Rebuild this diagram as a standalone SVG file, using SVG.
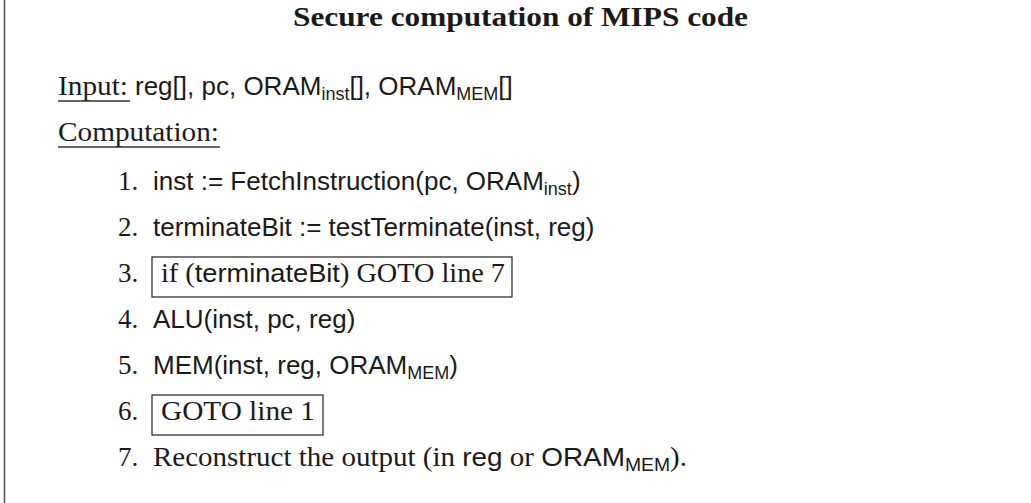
<svg xmlns="http://www.w3.org/2000/svg" width="1031" height="503" viewBox="0 0 1031 503">
<style>
.serif{font-family:"Liberation Serif",serif;font-size:27px;fill:#1a1a1a}
.sans{font-family:"Liberation Sans",sans-serif;font-size:26px;fill:#1a1a1a}
.sub{font-size:18px}
.title{font-family:"Liberation Serif",serif;font-size:27px;font-weight:bold;fill:#1a1a1a}
.box{fill:none;stroke:#333;stroke-width:1.3}
.ul{stroke:#333;stroke-width:1.3}
</style>
<rect x="0" y="0" width="1031" height="503" fill="#fff"/>
<line x1="4.5" y1="0" x2="4.5" y2="503" stroke="#555" stroke-width="1.6"/>
<g id="title"><text class="title" x="293" y="26" textLength="455" lengthAdjust="spacingAndGlyphs">Secure computation of MIPS code</text></g>
<g id="input">
<text class="serif" x="58" y="95" textLength="70" lengthAdjust="spacingAndGlyphs">Input:</text>
<line class="ul" x1="58" y1="101" x2="130" y2="101"/>
<text class="sans" x="135" y="95">reg[], pc, ORAM<tspan class="sub" dy="5">inst</tspan><tspan dy="-5">[], ORAM</tspan><tspan class="sub" dy="5">MEM</tspan><tspan dy="-5">[]</tspan></text>
</g>
<g id="computation">
<text class="serif" x="58" y="141" textLength="161" lengthAdjust="spacingAndGlyphs">Computation:</text>
<line class="ul" x1="58" y1="147" x2="220" y2="147"/>
</g>
<g id="step1">
<text class="serif" x="118" y="190">1.</text>
<text class="sans" x="153" y="190">inst := FetchInstruction(pc, ORAM<tspan class="sub" dy="5">inst</tspan><tspan dy="-5">)</tspan></text>
</g>
<g id="step2">
<text class="serif" x="118" y="236">2.</text>
<text class="sans" x="153" y="236">terminateBit := testTerminate(inst, reg)</text>
</g>
<g id="step3">
<text class="serif" x="118" y="282">3.</text>
<rect class="box" x="152" y="257" width="360" height="40"/>
<text class="serif" x="161" y="282" textLength="344" lengthAdjust="spacingAndGlyphs">if (<tspan class="sans">terminateBit</tspan>) GOTO line 7</text>
</g>
<g id="step4">
<text class="serif" x="118" y="328">4.</text>
<text class="sans" x="153" y="328">ALU(inst, pc, reg)</text>
</g>
<g id="step5">
<text class="serif" x="118" y="374">5.</text>
<text class="sans" x="153" y="374">MEM(inst, reg, ORAM<tspan class="sub" dy="5">MEM</tspan><tspan dy="-5">)</tspan></text>
</g>
<g id="step6">
<text class="serif" x="118" y="420">6.</text>
<rect class="box" x="152" y="395" width="171" height="40"/>
<text class="serif" x="161" y="420" textLength="154" lengthAdjust="spacingAndGlyphs">GOTO line 1</text>
</g>
<g id="step7">
<text class="serif" x="118" y="466">7.</text>
<text class="serif" x="153" y="466" textLength="534" lengthAdjust="spacingAndGlyphs">Reconstruct the output (in <tspan class="sans">reg</tspan> or <tspan class="sans">ORAM</tspan><tspan class="sans sub" dy="5">MEM</tspan><tspan dy="-5">).</tspan></text>
</g>
</svg>
